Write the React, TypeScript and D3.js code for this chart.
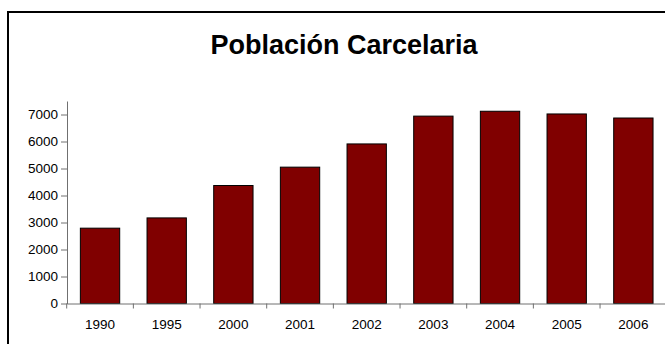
import { useEffect, useRef } from "react";
import * as d3 from "d3";

const years = ["1990", "1995", "2000", "2001", "2002", "2003", "2004", "2005", "2006"];
const population = [2790, 3170, 4370, 5050, 5910, 6940, 7120, 7020, 6870];
const yTicks = [0, 1000, 2000, 3000, 4000, 5000, 6000, 7000];
const title = "Población Carcelaria";

const App = () => {
  const svgRef = useRef<SVGSVGElement>(null);

  useEffect(() => {
    const width = 665;
    const height = 344;
    const font = "'Liberation Sans', Arial, sans-serif";

    const svg = d3.select(svgRef.current);
    svg.selectAll("*").remove();
    svg.attr("width", width).attr("height", height);

    // chart frame (runs past the right and bottom edges)
    svg
      .append("rect")
      .attr("x", 8)
      .attr("y", 12)
      .attr("width", 700)
      .attr("height", 400)
      .attr("fill", "white")
      .attr("stroke", "black")
      .attr("stroke-width", 2);

    svg
      .append("text")
      .attr("x", 344)
      .attr("y", 54)
      .attr("text-anchor", "middle")
      .attr("font-family", font)
      .attr("font-weight", "bold")
      .attr("font-size", 27)
      .text(title);

    const x = d3
      .scaleBand()
      .domain(years)
      .range([66.7, 666.7])
      .paddingInner(0.41)
      .paddingOuter(0.205);

    const y = d3.scaleLinear().domain([0, 7500]).range([303.5, 101]);

    // y axis
    const yAxis = svg
      .append("g")
      .attr("transform", "translate(67,0)")
      .call(
        d3
          .axisLeft(y)
          .tickValues(yTicks)
          .tickFormat(d3.format("d"))
          .tickSize(6)
          .tickSizeOuter(0)
          .tickPadding(3)
      );
    yAxis.select(".domain").attr("stroke", "#707070");
    yAxis.selectAll(".tick line").attr("stroke", "#707070");
    yAxis
      .selectAll(".tick text")
      .attr("font-family", font)
      .attr("font-size", 13.5)
      .attr("fill", "black");

    // bars
    svg
      .selectAll(".bar")
      .data(years)
      .enter()
      .append("rect")
      .attr("class", "bar")
      .attr("x", (d) => x(d)!)
      .attr("y", (d, i) => y(population[i]))
      .attr("width", x.bandwidth())
      .attr("height", (d, i) => y(0) - y(population[i]))
      .attr("fill", "#800000")
      .attr("stroke", "black")
      .attr("stroke-width", 1);

    // x axis
    const xAxis = svg
      .append("g")
      .attr("transform", `translate(0,${y(0)})`)
      .call(d3.axisBottom(x).tickSize(0).tickPadding(16));
    xAxis.select(".domain").attr("stroke", "#707070");
    xAxis
      .selectAll(".tick text")
      .attr("font-family", font)
      .attr("font-size", 13.5)
      .attr("fill", "black");

    const edge = x.step() * x.paddingOuter();
    const bounds = years.map((d) => x(d)! - edge);
    svg
      .append("g")
      .selectAll("line")
      .data(bounds)
      .enter()
      .append("line")
      .attr("x1", (d) => d)
      .attr("x2", (d) => d)
      .attr("y1", y(0))
      .attr("y2", y(0) + 5)
      .attr("stroke", "#707070");
  }, []);

  return (
    <div style={{ position: "absolute", left: 0, top: 0 }}>
      <svg ref={svgRef} style={{ display: "block" }}></svg>
    </div>
  );
};

export default App;
